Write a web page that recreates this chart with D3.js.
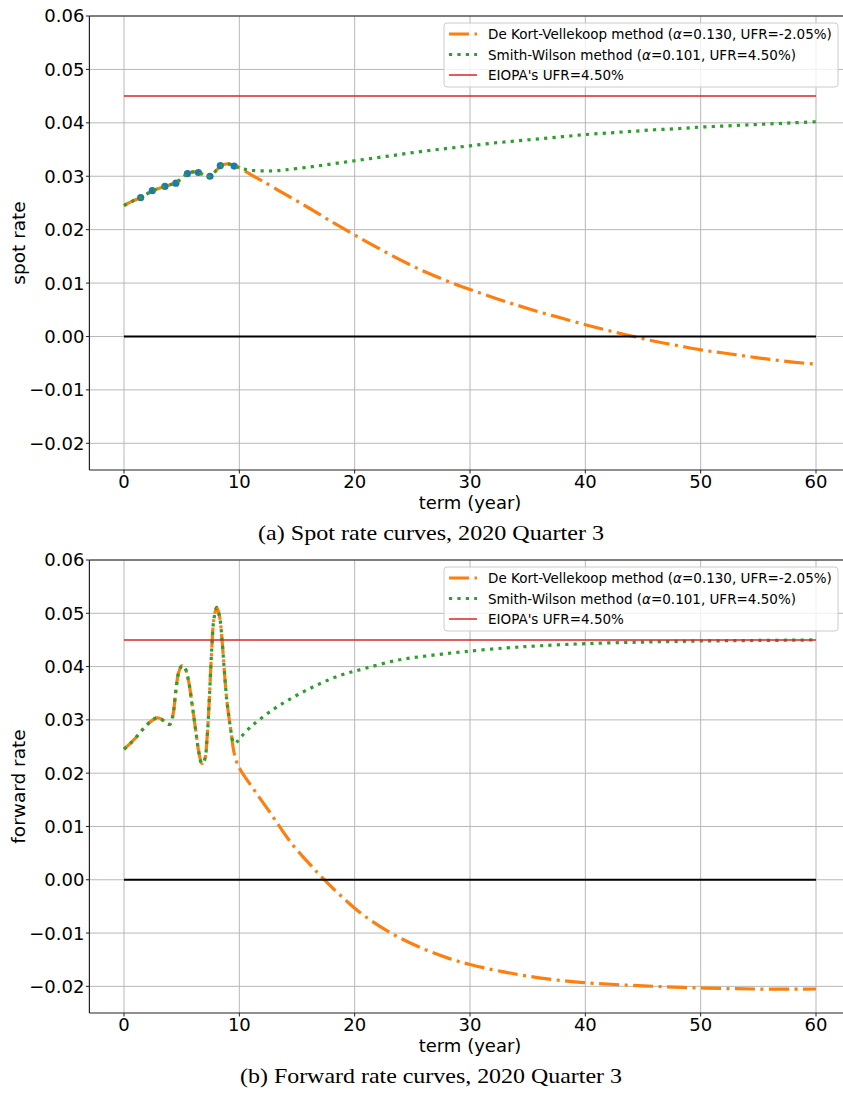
<!DOCTYPE html>
<html>
<head>
<meta charset="utf-8">
<script src="https://cdn.jsdelivr.net/npm/d3@7"></script>
<style>
  html, body { margin: 0; padding: 0; background: #fff; }
  svg { display: block; }
</style>
</head>
<body>
<svg id="chart" width="843" height="1093"></svg>
<script>
// ---------- DATA ----------
const xTicks = [0, 10, 20, 30, 40, 50, 60];
const yTicks = [-0.02, -0.01, 0.00, 0.01, 0.02, 0.03, 0.04, 0.05, 0.06];
const legendLabels = ["De Kort-Vellekoop method", "Smith-Wilson method", "EIOPA's UFR=4.50%"];
const dkvParams = ["0.130", "-2.05%"];
const swParams = ["0.101", "4.50%"];
const ufrRate = 0.045;
const refTerms = [0, 60];
const captions = ["(a) Spot rate curves, 2020 Quarter 3", "(b) Forward rate curves, 2020 Quarter 3"];
const yLabels = ["spot rate", "forward rate"];

// observed spot rates
const obsTerms = [1.45, 2.45, 3.55, 4.5, 5.5, 6.45, 7.45, 8.35, 9.55];
const obsRates = [0.0260, 0.0273, 0.0281, 0.0287, 0.0305, 0.0307, 0.0300, 0.0320, 0.0319];

// spot rate curves
const spotDKVTerms = [0, 0.5, 1, 1.45, 2, 2.45, 3, 3.55, 4, 4.5, 5, 5.5, 6, 6.45, 7, 7.45, 8, 8.45, 9, 9.55, 10,
  11, 12, 14, 16, 18, 20, 22, 24, 26, 28, 30, 32, 34, 36, 38, 40, 42, 44, 46, 48, 50, 52, 54, 56, 58, 60];
const spotDKVRates = [0.0245, 0.0251, 0.0256, 0.0260, 0.0267, 0.0273, 0.0277, 0.0281, 0.0284, 0.0288, 0.0296, 0.0305, 0.0308, 0.0307, 0.0302, 0.0300, 0.0311, 0.0320, 0.0323, 0.0320, 0.0316,
  0.0303, 0.0291, 0.0266, 0.0241, 0.0215, 0.0190, 0.0166, 0.0143, 0.0122, 0.0104, 0.0088, 0.0073, 0.0059, 0.0046, 0.0034, 0.0022, 0.0011, 0.0001, -0.0009, -0.0017, -0.0025, -0.0031, -0.0037, -0.0043, -0.0048, -0.0052];
const spotSWTerms = [0, 0.5, 1, 1.45, 2, 2.45, 3, 3.55, 4, 4.5, 5, 5.5, 6, 6.45, 7, 7.45, 8, 8.45, 9, 9.55, 10,
  10.5, 11, 12, 13, 14, 16, 18, 20, 22, 24, 26, 28, 30, 32, 34, 36, 38, 40, 42, 44, 46, 48, 50, 52, 54, 56, 58, 60];
const spotSWRates = [0.0245, 0.0251, 0.0256, 0.0260, 0.0267, 0.0273, 0.0277, 0.0281, 0.0284, 0.0288, 0.0296, 0.0305, 0.0308, 0.0307, 0.0302, 0.0300, 0.0311, 0.0320, 0.0323, 0.0320, 0.0316,
  0.0313, 0.0311, 0.0310, 0.0310, 0.0312, 0.0317, 0.0323, 0.0329, 0.0335, 0.0341, 0.0347, 0.0352, 0.0357, 0.0362, 0.0366, 0.0370, 0.0374, 0.0378, 0.0381, 0.0384, 0.0387, 0.0389, 0.0392, 0.0394, 0.0396, 0.0398, 0.0400, 0.0402];

// forward rate curves
const fwdDKVTerms = [0, 0.5, 1, 1.5, 2, 2.5, 2.85, 3.2, 3.5, 3.8, 4.0, 4.25, 4.5, 4.75, 5.05, 5.3, 5.6, 5.9, 6.2, 6.5, 6.75, 7.0, 7.2, 7.4, 7.6, 7.8, 8.05, 8.3, 8.5, 8.7, 8.9, 9.1, 9.3,
  9.5, 9.75, 10.1, 11.3, 12.7, 14.5, 16.2, 17.1, 18.8, 20.8, 23.4, 26, 28.1, 30, 32.7, 36, 39.9, 45, 50, 55, 60];
const fwdDKVRates = [0.0245, 0.0255, 0.0266, 0.0279, 0.0291, 0.0300, 0.0304, 0.0302, 0.0297, 0.0292, 0.0292, 0.0310, 0.0355, 0.0390, 0.0402, 0.0397, 0.0373, 0.0330, 0.0283, 0.0238, 0.0218, 0.0226, 0.0265, 0.0340, 0.0430, 0.0490, 0.0511, 0.0492, 0.0450, 0.0392, 0.0340, 0.0305, 0.0275,
  0.0243, 0.0222, 0.0206, 0.0168, 0.0125, 0.0069, 0.0027, 0.0006, -0.0030, -0.0067, -0.0103, -0.0130, -0.0147, -0.0159, -0.0172, -0.0184, -0.0193, -0.0199, -0.0203, -0.0205, -0.0205];
const fwdSWTerms = [0, 0.5, 1, 1.5, 2, 2.5, 2.85, 3.2, 3.5, 3.8, 4.0, 4.25, 4.5, 4.75, 5.05, 5.3, 5.6, 5.9, 6.2, 6.5, 6.75, 7.0, 7.2, 7.4, 7.6, 7.8, 8.05, 8.3, 8.5, 8.7, 8.9, 9.1, 9.3,
  9.45, 9.6, 9.8, 10.1, 11.1, 12.9, 14.8, 16.8, 18.8, 20.8, 23.7, 26.6, 29.5, 33.1, 36, 40, 45, 50, 55, 60];
const fwdSWRates = [0.0245, 0.0255, 0.0266, 0.0279, 0.0291, 0.0300, 0.0304, 0.0302, 0.0297, 0.0292, 0.0292, 0.0310, 0.0355, 0.0390, 0.0402, 0.0397, 0.0373, 0.0330, 0.0283, 0.0238, 0.0218, 0.0226, 0.0265, 0.0340, 0.0430, 0.0490, 0.0511, 0.0492, 0.0450, 0.0392, 0.0340, 0.0305, 0.0275,
  0.0259, 0.0256, 0.0259, 0.0267, 0.0289, 0.0319, 0.0344, 0.0366, 0.0384, 0.0396, 0.0412, 0.0421, 0.0428, 0.0435, 0.0439, 0.0443, 0.0446, 0.0448, 0.0449, 0.0450];

// ---------- DRAW ----------
const svg = d3.select("#chart");
const C = { orange: "#ff7f0e", green: "#2ca02c", red: "#d62728", blue: "#1f77b4", grid: "#b8b8b8", spine: "#222" };
const sans = "'DejaVu Sans', 'Bitstream Vera Sans', sans-serif";
const serif = "'Liberation Serif', 'Times New Roman', serif";

const x = d3.scaleLinear().domain([-3, 63]).range([89.4, 850.6]);

function zip(ts, vs) { return ts.map((t, i) => [t, vs[i]]); }

function panel(top, bottom, cfg) {
  const g = svg.append("g");
  const y = d3.scaleLinear().domain([-0.025, 0.06]).range([bottom, top]);
  const left = x.range()[0], right = 843;

  const clipId = "clip" + top;
  svg.append("clipPath").attr("id", clipId).append("rect")
    .attr("x", left).attr("y", top).attr("width", right - left).attr("height", bottom - top);

  // grid
  const grid = g.append("g");
  grid.selectAll(".vg").data(xTicks).join("line")
    .attr("x1", d => x(d)).attr("x2", d => x(d)).attr("y1", top).attr("y2", bottom)
    .attr("stroke", C.grid).attr("stroke-width", 1);
  grid.selectAll(".hg").data(yTicks).join("line")
    .attr("x1", left).attr("x2", right).attr("y1", d => y(d)).attr("y2", d => y(d))
    .attr("stroke", C.grid).attr("stroke-width", 1);

  const plot = g.append("g").attr("clip-path", `url(#${clipId})`);
  const line = d3.line().x(d => x(d[0])).y(d => y(d[1])).curve(d3.curveCatmullRom.alpha(0.5));

  // DKV
  plot.append("path").datum(zip(cfg.dkvT, cfg.dkvR)).attr("d", line)
    .attr("fill", "none").attr("stroke", C.orange).attr("stroke-width", 3.2)
    .attr("stroke-dasharray", "20,5.5,3,5.5");
  // observed
  if (cfg.obsT) {
    plot.selectAll(".obs").data(zip(cfg.obsT, cfg.obsR)).join("circle")
      .attr("cx", d => x(d[0])).attr("cy", d => y(d[1])).attr("r", 3.6).attr("fill", C.blue);
  }
  // SW
  plot.append("path").datum(zip(cfg.swT, cfg.swR)).attr("d", line)
    .attr("fill", "none").attr("stroke", C.green).attr("stroke-width", 3.2)
    .attr("stroke-dasharray", "3.2,5.2");
  // EIOPA UFR
  plot.append("line").attr("x1", x(refTerms[0])).attr("x2", x(refTerms[1]))
    .attr("y1", y(ufrRate)).attr("y2", y(ufrRate)).attr("stroke", C.red).attr("stroke-width", 1.5);
  // zero line
  plot.append("line").attr("x1", x(refTerms[0])).attr("x2", x(refTerms[1]))
    .attr("y1", y(0)).attr("y2", y(0)).attr("stroke", "#000").attr("stroke-width", 2);

  // spines
  g.append("line").attr("x1", left).attr("x2", left).attr("y1", top).attr("y2", bottom).attr("stroke", C.spine).attr("stroke-width", 1.2);
  g.append("line").attr("x1", left).attr("x2", right).attr("y1", bottom).attr("y2", bottom).attr("stroke", C.spine).attr("stroke-width", 1.2);
  g.append("line").attr("x1", left).attr("x2", right).attr("y1", top).attr("y2", top).attr("stroke", C.spine).attr("stroke-width", 1.2);

  // y axis ticks & labels
  const fmt = d3.format(".2f");
  g.selectAll(".yt").data(yTicks).join("line")
    .attr("x1", left - 3.5).attr("x2", left).attr("y1", d => y(d)).attr("y2", d => y(d))
    .attr("stroke", C.spine).attr("stroke-width", 1);
  g.selectAll(".yl").data(yTicks).join("text")
    .attr("x", left - 5).attr("y", d => y(d)).attr("dy", "0.36em")
    .attr("text-anchor", "end").attr("font-family", sans).attr("font-size", 18).attr("fill", "#000")
    .text(d => fmt(d));
  // x axis ticks & labels
  g.selectAll(".xt").data(xTicks).join("line")
    .attr("x1", d => x(d)).attr("x2", d => x(d)).attr("y1", bottom).attr("y2", bottom + 3.5)
    .attr("stroke", C.spine).attr("stroke-width", 1);
  g.selectAll(".xl").data(xTicks).join("text")
    .attr("x", d => x(d)).attr("y", bottom + 17.5)
    .attr("text-anchor", "middle").attr("font-family", sans).attr("font-size", 18).attr("fill", "#000")
    .text(d => d);

  // axis labels
  g.append("text").attr("x", x(30)).attr("y", bottom + 38.5)
    .attr("text-anchor", "middle").attr("font-family", sans).attr("font-size", 18).text("term (year)");
  const cy = (top + bottom) / 2;
  g.append("text").attr("transform", `translate(25,${cy}) rotate(-90)`)
    .attr("text-anchor", "middle").attr("font-family", sans).attr("font-size", 18.5)
    .text(cfg.ylabel);

  // caption
  g.append("text").attr("x", 431).attr("y", bottom + 70)
    .attr("text-anchor", "middle").attr("font-family", serif).attr("font-size", 21)
    .attr("textLength", cfg.capLen).attr("lengthAdjust", "spacingAndGlyphs")
    .text(cfg.caption);

  // legend
  const lg = g.append("g");
  lg.append("rect").attr("x", 444).attr("y", top + 7).attr("width", 394).attr("height", 64)
    .attr("rx", 3).attr("fill", "#fff").attr("fill-opacity", 0.8).attr("stroke", "#cccccc").attr("stroke-width", 1);
  const rows = [top + 18, top + 38.5, top + 59];
  const hx1 = 449, hx2 = 477, tx = 488;
  lg.append("line").attr("x1", hx1).attr("x2", hx2).attr("y1", rows[0]).attr("y2", rows[0])
    .attr("stroke", C.orange).attr("stroke-width", 3.2).attr("stroke-dasharray", "20,5.5,3,5.5");
  lg.append("line").attr("x1", hx1).attr("x2", hx2).attr("y1", rows[1]).attr("y2", rows[1])
    .attr("stroke", C.green).attr("stroke-width", 3.2).attr("stroke-dasharray", "3.2,5.2");
  lg.append("line").attr("x1", hx1).attr("x2", hx2).attr("y1", rows[2]).attr("y2", rows[2])
    .attr("stroke", C.red).attr("stroke-width", 1.5);
  function paramText(yy, name, p) {
    const t = lg.append("text").attr("x", tx).attr("y", yy + 5)
      .attr("font-family", sans).attr("font-size", 13.5).attr("fill", "#000");
    t.append("tspan").text(name + " (");
    t.append("tspan").attr("font-style", "italic").text("α");
    t.append("tspan").text("=" + p[0] + ", UFR=" + p[1] + ")");
  }
  paramText(rows[0], legendLabels[0], dkvParams);
  paramText(rows[1], legendLabels[1], swParams);
  lg.append("text").attr("x", tx).attr("y", rows[2] + 5)
    .attr("font-family", sans).attr("font-size", 13.5).text(legendLabels[2]);
}

panel(16, 470, {
  dkvT: spotDKVTerms, dkvR: spotDKVRates, swT: spotSWTerms, swR: spotSWRates,
  obsT: obsTerms, obsR: obsRates, ylabel: yLabels[0], caption: captions[0], capLen: 346
});
panel(560, 1013, {
  dkvT: fwdDKVTerms, dkvR: fwdDKVRates, swT: fwdSWTerms, swR: fwdSWRates,
  ylabel: yLabels[1], caption: captions[1], capLen: 382
});
</script>
</body>
</html>
